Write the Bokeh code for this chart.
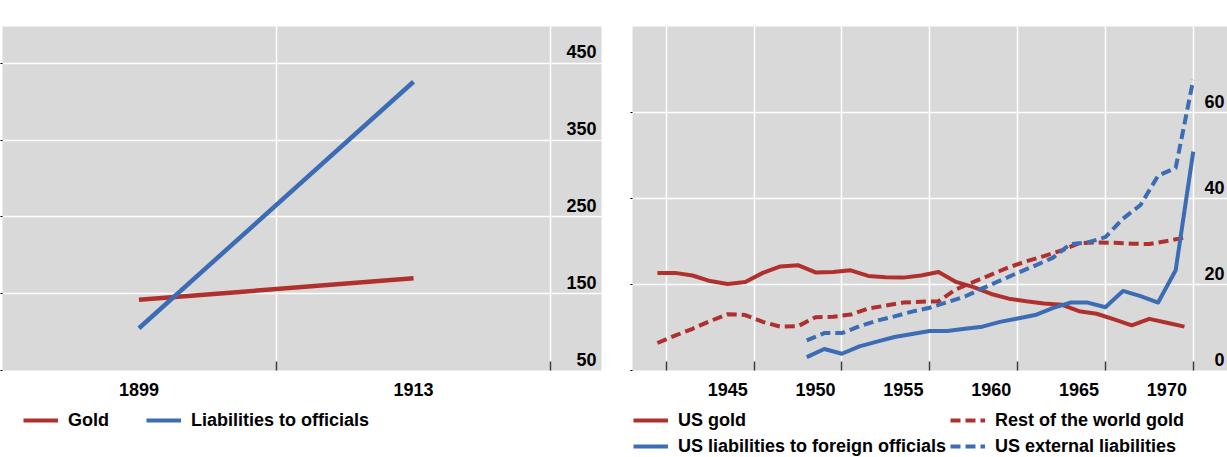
from bokeh.plotting import figure
from bokeh.models import FixedTicker, Legend, LegendItem, Label, Range1d, ColumnDataSource
from bokeh.layouts import row, column
from bokeh.embed import file_html
from bokeh.resources import INLINE
from bokeh.core.properties import value

# ---------------- data ----------------
# Left panel: UK, USD m
uk_years = ["1899", "1913"]
uk_gold = [142, 170]
uk_liabilities = [105, 426]
uk_yticks = [50, 150, 250, 350, 450]

# Right panel: US, USD bn
gold_years = list(range(1941, 1972))          # annual figures, plotted at mid-year
us_gold = [22.7, 22.7, 22.1, 20.8, 20.1, 20.6, 22.7, 24.2, 24.5, 22.8,
           22.9, 23.3, 22.0, 21.7, 21.6, 22.1, 22.9, 20.6, 19.4, 17.8,
           16.7, 16.1, 15.6, 15.3, 13.8, 13.2, 11.9, 10.5, 12.0, 11.1, 10.2]
rest_world_gold = [6.4, 8.1, 9.7, 11.5, 13.1, 12.9, 11.3, 10.2, 10.3, 12.4,
                   12.5, 13.0, 14.4, 15.1, 15.8, 16.0, 16.1, 18.9, 20.6, 22.3,
                   24.0, 25.4, 26.6, 27.9, 29.6, 29.8, 29.7, 29.5, 29.4, 30.1, 30.9]
liab_years = list(range(1949, 1972))          # end-of-year stocks
us_liab_officials = [3.1, 5.0, 3.9, 5.6, 6.7, 7.8, 8.5, 9.2, 9.2, 9.7,
                     10.2, 11.3, 12.1, 12.9, 14.5, 15.8, 15.8, 14.7, 18.5, 17.3,
                     15.8, 23.3, 50.9]
us_ext_liab = [7.0, 8.7, 8.7, 10.3, 11.6, 12.6, 13.7, 14.6, 15.9, 17.2,
               19.1, 20.9, 22.7, 24.4, 26.2, 29.4, 29.8, 31.0, 35.3, 38.5,
               45.3, 47.1, 67.6]
us_label_years = [1945, 1950, 1955, 1960, 1965, 1970]
us_boundaries = [1942, 1947, 1952, 1957, 1962, 1967, 1972]
us_yticks = [0, 20, 40, 60]

# ---------------- style ----------------
RED = "#b0302e"
BLUE = "#3b6cb4"
BG = "#d9d9d9"
FONT = "Liberation Sans"
UNIT_FONT = "Open Sans"
FS = "18px"
FRAME_H = 344
SOLID = dict(line_width=4, line_join="round")
DASHED = dict(line_width=4, line_join="round", line_dash="10 5")
NAN = float("nan")


def px(rng, frame_px, n):
    """n screen pixels expressed in data units of the given range"""
    return n * (rng.end - rng.start) / frame_px


def style(p, frame_w, yticks, majors, minors, overrides, right_gap):
    p.background_fill_color = BG
    p.border_fill_color = "white"
    p.outline_line_color = None
    xa = p.xaxis[0]
    xa.ticker = FixedTicker(ticks=majors, minor_ticks=minors)
    xa.major_label_overrides = overrides
    xa.major_tick_in = 0
    xa.major_tick_out = 0
    xa.minor_tick_in = 9
    xa.minor_tick_out = 0
    xa.minor_tick_line_color = "#3a3a3a"
    xa.minor_tick_line_width = 1.5
    xa.axis_line_color = None
    xa.major_label_standoff = 12
    xa.major_label_text_font = FONT
    xa.major_label_text_font_size = FS
    xa.major_label_text_font_style = "bold"
    xa.major_label_text_color = "black"
    ya = p.yaxis[0]
    ya.ticker = FixedTicker(ticks=yticks)
    ya.major_label_overrides = {t: "" for t in yticks}
    ya.major_tick_in = 0
    ya.major_tick_out = 2
    ya.minor_tick_in = 0
    ya.minor_tick_out = 0
    ya.major_tick_line_color = "black"
    ya.major_label_standoff = 0
    ya.axis_line_color = None
    p.xgrid.ticker = FixedTicker(ticks=minors)
    p.ygrid.ticker = FixedTicker(ticks=yticks[1:])
    for g in (p.xgrid, p.ygrid):
        g.grid_line_color = "white"
        g.grid_line_width = 1.5
    # value labels sit inside the plot, just above their gridline, right-aligned
    lx = p.x_range.end - px(p.x_range, frame_w, right_gap)
    dy = px(p.y_range, FRAME_H, 11.5)
    src = ColumnDataSource(dict(x=[lx] * len(yticks), y=[t + dy for t in yticks],
                                t=[str(v) for v in yticks]))
    p.text(x="x", y="y", text="t", source=src, text_align="right",
           text_baseline="alphabetic", text_font=value(FONT), text_font_size=FS,
           text_font_style="bold", text_color="black")


def unit_label(p, x, text, align):
    return Label(x=x, y=p.y_range.end + px(p.y_range, FRAME_H, 11.5), text=text,
                 text_align=align, text_baseline="alphabetic",
                 text_font=UNIT_FONT, text_font_size="19px", text_color="#7f7f7f")


def legend_figure(width, entries, loc, spacing, ncols=None):
    f = figure(width=width, height=51, x_range=Range1d(0, 1), y_range=Range1d(0, 1),
               output_backend="svg", toolbar_location=None,
               x_axis_location=None, y_axis_location=None, min_border=0)
    f.outline_line_color = None
    f.grid.visible = False
    items = []
    for label, color, dash in entries:
        r = f.line(x=[NAN, NAN], y=[NAN, NAN], line_color=color,
                   **(DASHED if dash else SOLID))
        items.append(LegendItem(label=label, renderers=[r]))
    kw = dict(items=items, orientation="horizontal", location=loc, margin=0,
              padding=0, spacing=spacing, glyph_width=35, glyph_height=22,
              label_height=22, label_standoff=10, label_text_font=FONT,
              label_text_font_size=FS, label_text_font_style="bold",
              label_text_color="black", border_line_color=None,
              background_fill_alpha=0)
    if ncols:
        kw["ncols"] = ncols
    f.add_layout(Legend(**kw))
    return f


# ---------------- left panel ----------------
W1 = 599
X1 = Range1d(0.003, 2.1846)
Y1 = Range1d(50, 498)
p1 = figure(frame_width=W1, frame_height=FRAME_H, x_range=X1, y_range=Y1,
            output_backend="svg", toolbar_location=None,
            min_border_top=26, min_border_left=0, min_border_right=26,
            min_border_bottom=36)
uk_x = [i + 0.5 for i in range(len(uk_years))]
style(p1, W1, uk_yticks, uk_x, [i + 1 for i in range(len(uk_years))],
      {x: lab for x, lab in zip(uk_x, uk_years)}, 5)
p1.line(uk_x, uk_gold, line_color=RED, line_width=4.5)
p1.line(uk_x, uk_liabilities, line_color=BLUE, line_width=4.5)
p1.add_layout(unit_label(p1, X1.end + px(X1, W1, 2), "USD m", "right"))
lf1 = legend_figure(627, [("Gold", RED, False),
                          ("Liabilities to officials", BLUE, False)], (23, 26), 37)

# ---------------- right panel ----------------
W2 = 595
X2 = Range1d(1940.082, 1973.95)
Y2 = Range1d(0, 80)
p2 = figure(frame_width=W2, frame_height=FRAME_H, x_range=X2, y_range=Y2,
            output_backend="svg", toolbar_location=None,
            min_border_top=26, min_border_left=5, min_border_right=0,
            min_border_bottom=36)
lab_x = [y + 0.5 for y in us_label_years]
style(p2, W2, us_yticks, lab_x, us_boundaries,
      {x: str(y) for x, y in zip(lab_x, us_label_years)}, 3)
gx = [y + 0.5 for y in gold_years]
lx = [y + 1 for y in liab_years]
p2.line(gx, us_gold, line_color=RED, **SOLID)
p2.line(gx, rest_world_gold, line_color=RED, **DASHED)
p2.line(lx, us_liab_officials, line_color=BLUE, **SOLID)
p2.line(lx, us_ext_liab, line_color=BLUE, **DASHED)
p2.add_layout(unit_label(p2, 1970.5, "USD bn", "left"))
lf2 = legend_figure(600, [("US gold", RED, False),
                          ("Rest of the world gold", RED, True),
                          ("US liabilities to foreign officials", BLUE, False),
                          ("US external liabilities", BLUE, True)], (6, 0), 4, ncols=2)

layout = column(row(p1, p2), row(lf1, lf2))
open("out.html", "w").write(file_html(layout, INLINE, title="Gold and liabilities"))
